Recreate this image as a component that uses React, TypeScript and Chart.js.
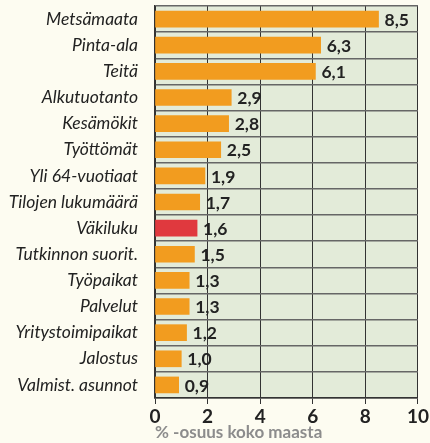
import React, { useEffect, useRef } from "react";
import { Chart, registerables } from "chart.js";

Chart.register(...registerables);

const categories = [
  "Metsämaata",
  "Pinta-ala",
  "Teitä",
  "Alkutuotanto",
  "Kesämökit",
  "Työttömät",
  "Yli 64-vuotiaat",
  "Tilojen lukumäärä",
  "Väkiluku",
  "Tutkinnon suorit.",
  "Työpaikat",
  "Palvelut",
  "Yritystoimipaikat",
  "Jalostus",
  "Valmist. asunnot",
];
const values = [8.5, 6.3, 6.1, 2.9, 2.8, 2.5, 1.9, 1.7, 1.6, 1.5, 1.3, 1.3, 1.2, 1.0, 0.9];
const highlight = "Väkiluku";
const xTicks = [0, 2, 4, 6, 8, 10];
const xTitle = "% -osuus koko maasta";

const ORANGE = "#f29c1f";
const RED = "#e0393e";
const FONT = "Lato, 'Open Sans', sans-serif";

export default function App() {
  const ref = useRef<HTMLCanvasElement>(null);
  useEffect(() => {
    document.body.style.margin = "0";
    document.body.style.background = "#fdfcf1";
    const bgPlugin = {
      id: "plotBg",
      beforeDraw(chart: any) {
        const { ctx, chartArea: a } = chart;
        ctx.save();
        ctx.fillStyle = "#fdfcf1";
        ctx.fillRect(0, 0, chart.width, chart.height);
        ctx.fillStyle = "#e3ebd9";
        ctx.fillRect(a.left, a.top, a.right - a.left, a.bottom - a.top);
        ctx.restore();
      },
    };
    const labelPlugin = {
      id: "valLabels",
      afterDatasetsDraw(chart: any) {
        const { ctx } = chart;
        const meta = chart.getDatasetMeta(0);
        ctx.save();
        ctx.font = `bold 17.5px ${FONT}`;
        ctx.fillStyle = "#222";
        ctx.textBaseline = "middle";
        ctx.textAlign = "left";
        meta.data.forEach((el: any, i: number) => {
          ctx.fillText(values[i].toFixed(1).replace(".", ","), el.x + 6, el.y + 1);
        });
        ctx.restore();
      },
    };
    const chart = new Chart(ref.current!, {
      type: "bar",
      data: {
        labels: categories,
        datasets: [
          {
            data: values,
            backgroundColor: categories.map((c) => (c === highlight ? RED : ORANGE)),
            borderWidth: 0,
            barThickness: 16,
          },
        ],
      },
      plugins: [bgPlugin, labelPlugin],
      options: {
        indexAxis: "y",
        animation: false,
        responsive: false,
        devicePixelRatio: 1,
        layout: { padding: { top: 6, right: 12, left: 0, bottom: 0 } },
        plugins: { legend: { display: false }, tooltip: { enabled: false } },
        scales: {
          x: {
            min: 0,
            max: 10,
            afterFit(s: any) {
              s.height = 45;
            },
            afterBuildTicks(s: any) {
              s.ticks = xTicks.map((v) => ({ value: v }));
            },
            grid: { color: "#333", lineWidth: 1, tickLength: 6, drawTicks: true },
            border: { color: "#333", width: 1.5 },
            ticks: {
              color: "#222",
              font: { family: FONT, size: 19, weight: "bold" },
              padding: 1,
              maxRotation: 0,
            },
            title: {
              display: true,
              text: xTitle,
              align: "start",
              color: "#8c8c8c",
              font: { family: FONT, size: 17, weight: "bold" },
              padding: { top: 3, bottom: 0 },
            },
          },
          y: {
            afterFit(s: any) {
              s.width = 155;
              s.paddingTop = 0;
              s.paddingBottom = 0;
            },
            grid: { color: "#666", lineWidth: 1.5, offset: true, drawTicks: false },
            border: { color: "#333", width: 1.5 },
            ticks: {
              color: "#222",
              font: { family: FONT, size: 17.5, style: "italic" },
              padding: 17,
            },
          },
        },
      },
    } as any);
    return () => chart.destroy();
  }, []);
  return <canvas ref={ref} width={430} height={443} style={{ display: "block" }} />;
}
